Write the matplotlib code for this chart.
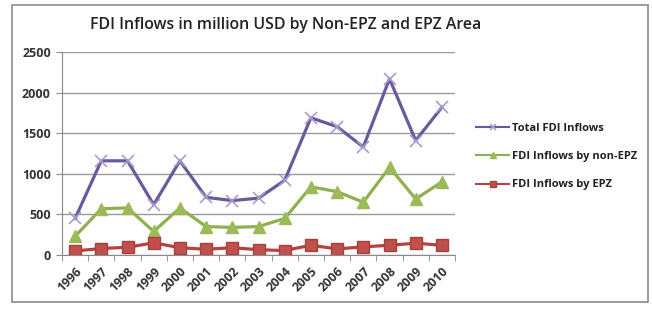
import matplotlib
matplotlib.use("Agg")
import matplotlib.pyplot as plt
from matplotlib.patches import Rectangle

years = ["1996", "1997", "1998", "1999", "2000", "2001", "2002", "2003",
         "2004", "2005", "2006", "2007", "2008", "2009", "2010"]
total_fdi = [450, 1160, 1160, 620, 1160, 710, 670, 700, 920, 1690, 1580, 1330, 2170, 1410, 1820]
non_epz = [230, 570, 580, 290, 580, 350, 340, 350, 450, 840, 780, 650, 1080, 690, 900]
epz = [50, 80, 95, 150, 90, 70, 90, 65, 55, 120, 75, 100, 120, 145, 120]
yticks = [0, 500, 1000, 1500, 2000, 2500]

plt.rcParams['font.family'] = ['Open Sans', 'DejaVu Sans']

fig = plt.figure(figsize=(6.52, 3.12), dpi=100)
fig.patch.set_facecolor('white')
fig.add_artist(Rectangle((12/652, 1-302/312), 636/652, 297/312, transform=fig.transFigure,
                         fill=False, edgecolor='#8a8a8a', linewidth=1.2))

ax = fig.add_axes([62/652, 1-255/312, 393/652, 203/312])
x = list(range(len(years)))
ax.plot(x, total_fdi, color='#6a5a9c', linewidth=2.3, marker='x', markersize=9,
        markeredgecolor='#a99bd0', markeredgewidth=1.2, label='Total FDI Inflows')
ax.plot(x, non_epz, color='#8fb04e', linewidth=2.3, marker='^', markersize=8,
        markerfacecolor='#9bbb59', markeredgecolor='#9bbb59', label='FDI Inflows by non-EPZ')
ax.plot(x, epz, color='#b8403d', linewidth=2.3, marker='s', markersize=8,
        markerfacecolor='#c0504d', markeredgecolor='#a8403d', label='FDI Inflows by EPZ')

ax.set_xlim(-0.5, len(years) - 0.5)
ax.set_ylim(0, 2500)
ax.set_yticks(yticks)
ax.set_yticklabels([str(v) for v in yticks], fontsize=9, fontweight='bold', color='#333333')
ax.set_xticks(x)
ax.set_xticklabels(years, rotation=45, fontsize=9, fontweight='bold', color='#333333',
                   ha='right', rotation_mode='anchor')
ax.set_xticks([i - 0.5 for i in range(len(years) + 1)], minor=True)
ax.tick_params(axis='x', which='major', length=0, pad=7)
ax.tick_params(axis='x', which='minor', length=4, color='#8a8a8a')
ax.tick_params(axis='y', length=4, color='#8a8a8a', pad=4)
ax.grid(axis='y', color='#9a9a9a', linewidth=1)
ax.set_axisbelow(True)
for s in ['top', 'right']:
    ax.spines[s].set_visible(False)
ax.spines['left'].set_color('#8a8a8a')
ax.spines['bottom'].set_color('#8a8a8a')

fig.text(286/652, 1-25/312, 'FDI Inflows in million USD by Non-EPZ and EPZ Area',
         ha='center', va='center', fontsize=11.4, fontweight='semibold', color='#222222')

leg = fig.legend(loc='upper left', bbox_to_anchor=(466/652, 1-113/312), frameon=False,
                 fontsize=8, handlelength=3.0, labelspacing=1.55, handletextpad=0.2)
for t in leg.get_texts():
    t.set_fontweight('bold')
    t.set_color('#222222')
for h in leg.legend_handles:
    h.set_linewidth(1.5)
    h.set_markersize(5)

fig.savefig('out.png', dpi=100, facecolor='white')
